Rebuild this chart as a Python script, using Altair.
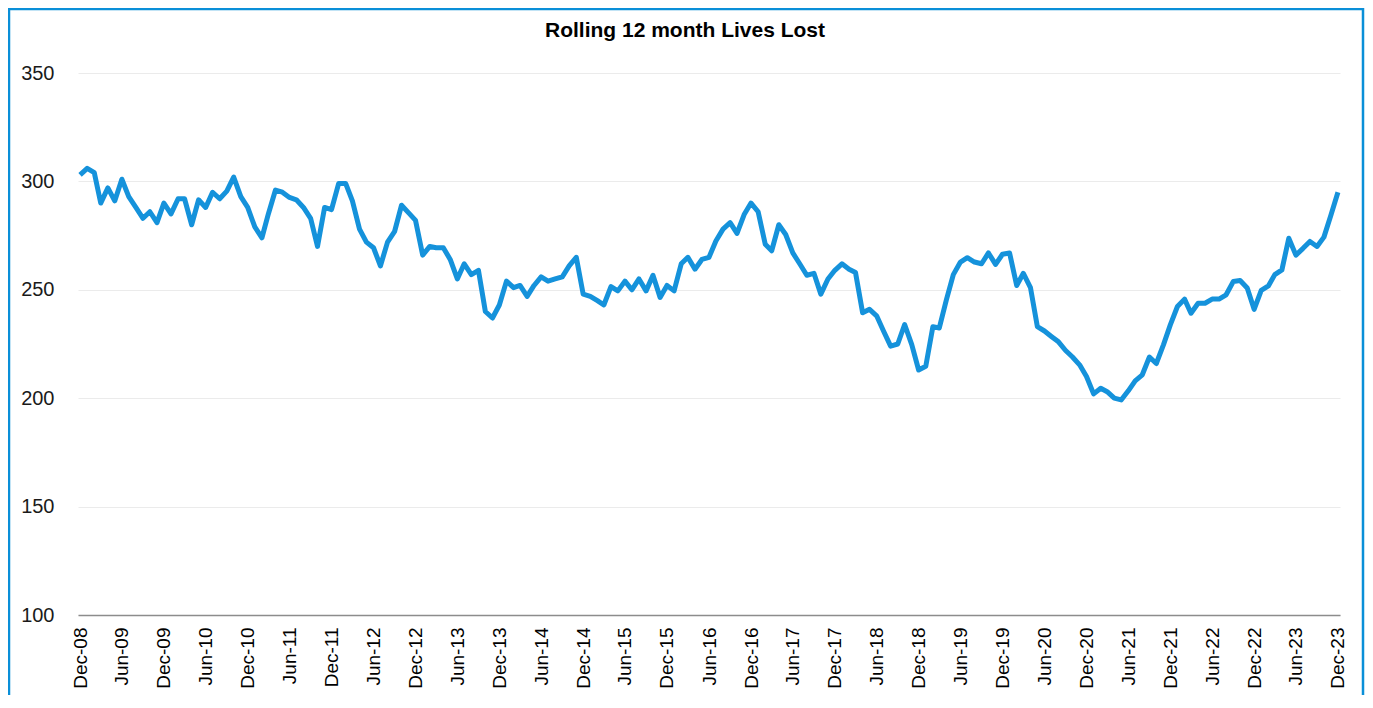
import altair as alt
import pandas as pd

# Monthly periods Dec-08 .. Dec-23
months = pd.date_range("2008-12-01", "2023-12-01", freq="MS").strftime("%Y-%m-%d").tolist()

lives_lost = [
    303, 306, 304, 290, 297, 291, 301, 293, 288, 283,
    286, 281, 290, 285, 292, 292, 280, 291.5, 288, 295,
    292, 295.5, 302, 293, 288, 279, 274, 285, 296, 295,
    292.6, 291.5, 288, 283, 270, 288, 287, 299,
    299, 291, 278, 272, 269.4, 261, 272, 277, 289, 285.5,
    282, 266, 270, 269.4, 269.4, 264, 255, 262, 257, 259,
    240, 237, 243, 254, 251, 252, 247, 252, 256, 254,
    255, 256, 261, 265, 248, 247, 245,
    243, 251.5, 249.5, 254, 250, 255, 249.5, 256.7, 246.5, 252,
    249.5, 262, 265, 259.5, 264, 265, 272.5, 278, 281, 276,
    284.7, 290, 286, 271, 268, 280, 275.5, 267, 262, 256.7,
    257.6, 248, 255, 259, 262, 259.5, 258,
    239.4, 241, 238, 231, 224, 225, 234, 224.7, 213, 214.7,
    233, 232.4, 245.5, 257, 262.8, 264.8, 262.8, 262, 267, 261.7,
    266.4, 267, 252, 257.6, 251, 233, 231, 228.5, 226, 222,
    219, 215.4, 210, 202, 204.6, 203, 200,
    199.2, 203.4, 208, 210.8, 219, 216, 224.6, 233.8, 242.3, 245.7,
    239.2, 243.8, 243.8, 245.7, 245.7, 247.7, 253.8, 254.3, 250.8, 241,
    249.7, 251.8, 257, 259.2, 273.8, 266, 269, 272.3, 270, 274.3,
    284.6, 295,
]

chart_title = "Rolling 12 month Lives Lost"
y_ticks = [100, 150, 200, 250, 300, 350]
tick_dates = months[::6]

df = pd.DataFrame({"date": months, "value": lives_lost})

tick_values = [
    alt.DateTime(year=int(d[:4]), month=int(d[5:7]), date=1, utc=True) for d in tick_dates
]

line = alt.Chart(df).mark_line(color="#1592DB", strokeWidth=5, strokeJoin="round").encode(
    x=alt.X(
        "date:T",
        title=None,
        scale=alt.Scale(type="utc", domain=[
            alt.DateTime(year=2008, month=11, date=22, utc=True),
            alt.DateTime(year=2023, month=12, date=10, utc=True),
        ]),
        axis=alt.Axis(
            values=tick_values,
            labelExpr="utcFormat(datum.value, '%b-%y')",
            labelAngle=-90,
            labelFont="Liberation Sans",
            labelFontSize=19,
            labelColor="#000000",
            labelPadding=12,
            ticks=False,
            grid=False,
            domainColor="#8c8c8c",
            domainWidth=1.5,
            labelOverlap=False,
        ),
    ),
    y=alt.Y(
        "value:Q",
        title=None,
        scale=alt.Scale(domain=[100, 350], nice=False, zero=False),
        axis=alt.Axis(
            values=y_ticks,
            labelFont="Liberation Sans",
            labelFontSize=20,
            labelColor="#1a1a1a",
            labelPadding=24,
            ticks=False,
            domain=False,
            gridColor="#ebebeb",
            gridWidth=1.2,
        ),
    ),
)

one_row = alt.Data(values=[{"t": chart_title}])

border = alt.Chart(one_row).mark_rect(
    filled=False, stroke="#0A8FD8", strokeWidth=2.5
).encode(
    x=alt.value(-69), x2=alt.value(1285), y=alt.value(-64), y2=alt.value(720)
)

title = alt.Chart(one_row).mark_text(
    font="Liberation Sans", fontSize=21, fontWeight="bold", color="#000000",
    align="center", baseline="alphabetic",
).encode(
    text="t:N", x=alt.value(607), y=alt.value(-36)
)

chart = alt.layer(border, line, title).properties(
    width=1262,
    height=542,
    autosize=alt.AutoSizeParams(type="none"),
    padding={"left": 70, "top": 65, "right": 25, "bottom": 80},
).configure_view(stroke=None)

chart.save("out.html", embed_options={"renderer": "svg", "actions": False})
